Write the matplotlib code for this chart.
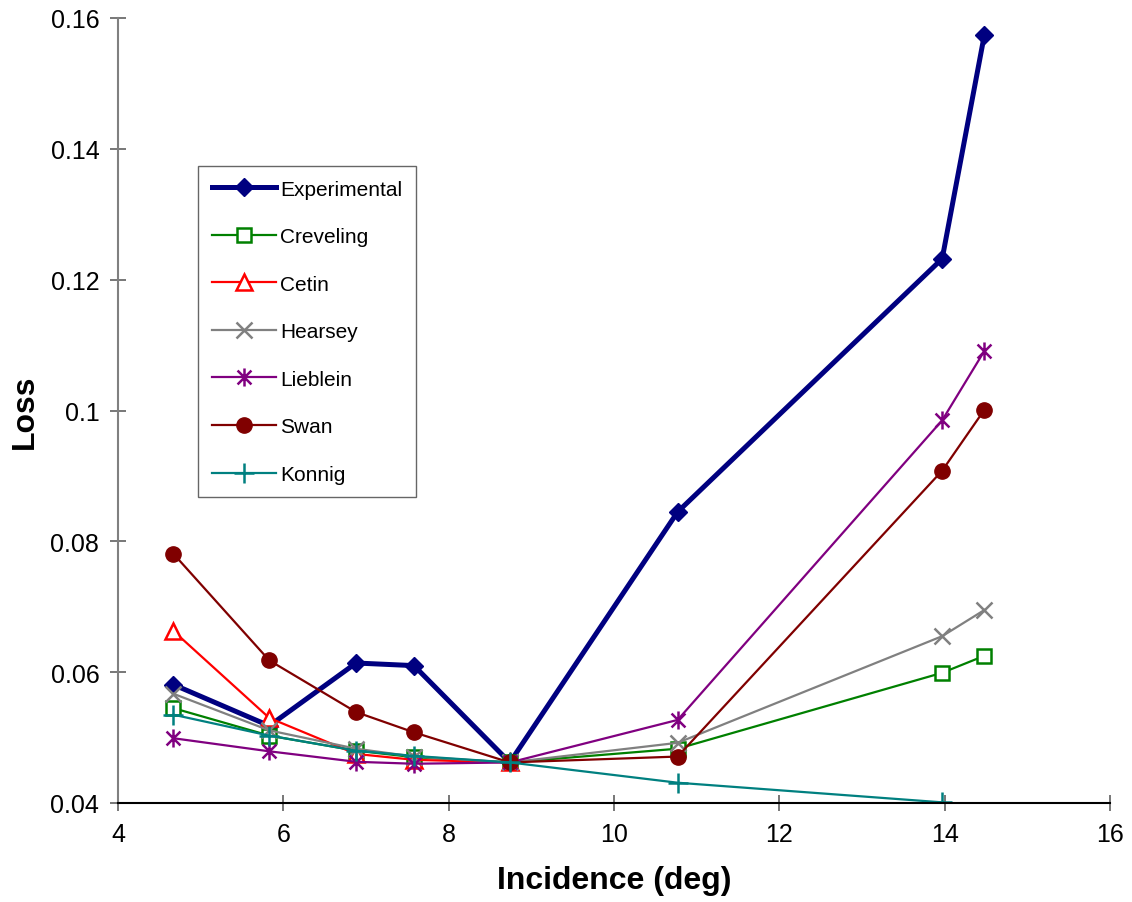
import matplotlib
matplotlib.use("Agg")
import matplotlib.pyplot as plt
from matplotlib.path import Path
from matplotlib.ticker import FuncFormatter

plt.rcParams['font.family'] = ['Liberation Sans', 'DejaVu Sans']

# incidence angles (deg)
incidence = [4.67, 5.83, 6.88, 7.58, 8.74, 10.77, 13.97, 14.48]

experimental = [0.0581, 0.0518, 0.0614, 0.0610, 0.0462, 0.0845, 0.1232, 0.1574]
creveling = [0.0545, 0.0503, 0.0480, 0.0470, 0.0462, 0.0483, 0.0599, 0.0625]
cetin = [0.0663, 0.0530, 0.0475, 0.0466, 0.0462]
hearsey = [0.0567, 0.0511, 0.0483, 0.0471, 0.0462, 0.0492, 0.0655, 0.0695]
lieblein = [0.0499, 0.0479, 0.0463, 0.0460, 0.0462, 0.0527, 0.0985, 0.1091]
swan = [0.0781, 0.0618, 0.0539, 0.0508, 0.0462, 0.0471, 0.0908, 0.1001]
konnig = [0.0535, 0.0503, 0.0480, 0.0472, 0.0462, 0.0431, 0.0401, 0.0385]

x_ticks = [4, 6, 8, 10, 12, 14, 16]
y_ticks = [0.04, 0.06, 0.08, 0.10, 0.12, 0.14, 0.16]

# excel style star: x with a vertical bar
star = Path([(-1, -1), (1, 1), (-1, 1), (1, -1), (0, -1.3), (0, 1.3)],
            [Path.MOVETO, Path.LINETO, Path.MOVETO, Path.LINETO, Path.MOVETO, Path.LINETO])

fig = plt.figure(figsize=(11.32, 9.03), dpi=100)
ax = fig.add_axes([118/1132, 1-804/903, 992/1132, 785/903])

ax.plot(incidence, experimental, color='#000080', lw=3.6, marker='D', ms=9,
        mfc='#000080', mec='#000080', label='Experimental')
ax.plot(incidence, creveling, color='#008000', lw=1.6, marker='s', ms=10,
        mfc='white', mec='#008000', mew=1.8, label='Creveling')
ax.plot(incidence[:len(cetin)], cetin, color='#FF0000', lw=1.6, marker='^', ms=11,
        mfc='white', mec='#FF0000', mew=1.8, label='Cetin')
ax.plot(incidence, hearsey, color='#808080', lw=1.6, marker='x', ms=11,
        mew=1.8, label='Hearsey')
ax.plot(incidence, lieblein, color='#800080', lw=1.6, marker=star, ms=13,
        mew=1.8, label='Lieblein')
ax.plot(incidence, swan, color='#800000', lw=1.6, marker='o', ms=11,
        mfc='#800000', mec='#800000', label='Swan')
ax.plot(incidence, konnig, color='#008080', lw=1.6, marker='+', ms=14,
        mew=1.8, label='Konnig')

ax.set_xlim(4, 16)
ax.set_ylim(0.04, 0.16)
ax.set_xticks(x_ticks)
ax.set_yticks(y_ticks)
ax.yaxis.set_major_formatter(FuncFormatter(lambda v, p: '%g' % round(v, 3)))

for s in ['top', 'right']:
    ax.spines[s].set_visible(False)
ax.spines['left'].set_color('#808080')
ax.spines['left'].set_linewidth(1.5)
ax.spines['bottom'].set_color('black')
ax.spines['bottom'].set_linewidth(1.5)

ax.tick_params(axis='both', direction='inout', length=11, width=1.2,
               color='#606060', labelsize=18, pad=8)

ax.set_xlabel('Incidence (deg)', fontsize=23, fontweight='bold')
ax.set_ylabel('Loss', fontsize=23, fontweight='bold')
ax.xaxis.set_label_coords(0.5, -0.079)
ax.yaxis.set_label_coords(-0.079, 0.5)

leg = ax.legend(loc='upper left', bbox_to_anchor=(198/1132, 1-167/903),
                bbox_transform=fig.transFigure, fontsize=15, frameon=True,
                fancybox=False, edgecolor='#404040', handlelength=3.1,
                labelspacing=1.37, borderpad=0.65, handletextpad=0.2,
                borderaxespad=0)
leg.get_frame().set_linewidth(1.0)

fig.savefig('out.png', dpi=100)
